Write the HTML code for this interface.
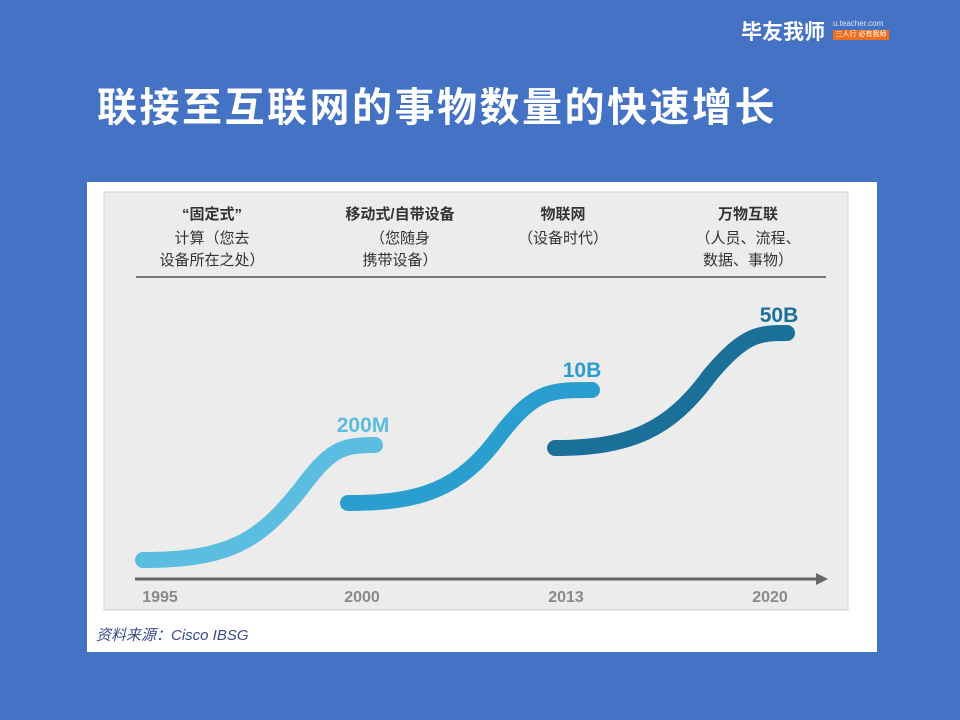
<!DOCTYPE html>
<html><head><meta charset="utf-8"><style>
body{margin:0;width:960px;height:720px;background:#4472C4;overflow:hidden;font-family:"Liberation Sans","Noto Sans CJK SC",sans-serif;position:relative}
.t{position:absolute;left:97px;top:75px;font-size:40px;font-weight:bold;color:#fff;letter-spacing:2.5px}
.logo{position:absolute;left:741px;top:16px;font-size:21px;font-weight:bold;color:#fff}
.url{position:absolute;left:833px;top:19px;font-size:8px;color:#e0e6f5}
.tag{position:absolute;left:833px;top:30px;width:56px;height:10px;background:#f07020;color:#fff;font-size:7px;line-height:10px;text-align:center}
</style></head><body>
<div class="logo">毕友我师</div>
<div class="url">u.teacher.com</div>
<div class="tag">三人行 必有我师</div>
<div class="t">联接至互联网的事物数量的快速增长</div>
<svg style="position:absolute;left:0;top:0" width="960" height="720">
<rect x="87" y="182" width="790" height="470" fill="#fff"/>
<rect x="104" y="192" width="744" height="418" fill="#ececec" stroke="#d0d0d0"/>
<line x1="136" y1="277" x2="826" y2="277" stroke="#777" stroke-width="2"/>
<g font-family="Liberation Sans,Noto Sans CJK SC,sans-serif" font-size="15" fill="#333" text-anchor="middle" font-weight="bold">
<text x="212" y="219">“固定式”</text><text x="212" y="243" font-weight="normal">计算（您去</text><text x="212" y="265" font-weight="normal">设备所在之处）</text>
<text x="400" y="219">移动式/自带设备</text><text x="400" y="243" font-weight="normal">（您随身</text><text x="400" y="265" font-weight="normal">携带设备）</text>
<text x="563" y="219">物联网</text><text x="563" y="243" font-weight="normal">（设备时代）</text>
<text x="748" y="219">万物互联</text><text x="748" y="243" font-weight="normal">（人员、流程、</text><text x="748" y="265" font-weight="normal">数据、事物）</text>
</g>
<g fill="none" stroke-linecap="round" stroke-width="16">
<path d="M143 560 C230 560 260 540 300 490 C330 450 340 445 375 445" stroke="#5bbde0"/>
<path d="M348 503 C420 503 460 490 500 435 C535 390 550 390 592 390" stroke="#2a9fcf"/>
<path d="M555 448 C630 448 670 430 710 375 C745 333 760 333 787 333" stroke="#1a7098"/>
</g>
<g font-family="Liberation Sans,sans-serif" font-size="21" font-weight="bold" text-anchor="middle">
<text x="363" y="432" fill="#5bbde0">200M</text>
<text x="582" y="377" fill="#2a9fcf">10B</text>
<text x="779" y="322" fill="#1a7098">50B</text>
</g>
<line x1="135" y1="579" x2="818" y2="579" stroke="#666" stroke-width="3"/>
<polygon points="816,573 828,579 816,585" fill="#666"/>
<g font-family="Liberation Sans,sans-serif" font-size="16" font-weight="bold" fill="#8a8a8a" text-anchor="middle">
<text x="160" y="602">1995</text><text x="362" y="602">2000</text><text x="566" y="602">2013</text><text x="770" y="602">2020</text>
</g>
<text x="96" y="640" font-family="Liberation Sans,Noto Sans CJK SC,sans-serif" font-size="15" font-style="italic" fill="#3a4a8a">资料来源：Cisco IBSG</text>
</svg>
</body></html>
